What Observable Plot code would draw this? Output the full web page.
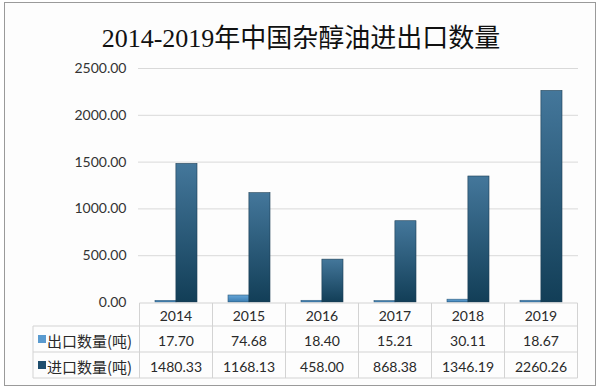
<!DOCTYPE html>
<html><head><meta charset="utf-8">
<script src="https://cdn.jsdelivr.net/npm/d3@7"></script>
<script src="https://cdn.jsdelivr.net/npm/@observablehq/plot@0.6"></script>
<style>
body{margin:0;background:#fff;}
#wrap{position:relative;width:600px;height:388px;overflow:hidden;background:#fff;}
#frame{position:absolute;left:4px;top:2px;width:592px;height:384px;border:1px solid #9a9a9a;box-sizing:border-box;background:#fdfdfd}
#title{position:absolute;left:0;top:17px;width:602px;text-align:center;font:26px "Liberation Serif","DejaVu Serif","Noto Sans CJK SC",serif;color:#111;white-space:nowrap}
#chart{position:absolute;left:0;top:55px;}
#tbl{position:absolute;left:0;top:0;}
</style></head><body>
<div id="wrap"><div id="frame"></div><div id="title">2014-2019年中国杂醇油进出口数量</div><div id="chart"></div></div>
<script>
const years = ["2014","2015","2016","2017","2018","2019"];
const exportVals = [17.70, 74.68, 18.40, 15.21, 30.11, 18.67];
const importVals = [1480.33, 1168.13, 458.00, 868.38, 1346.19, 2260.26];
const seriesNames = ["出口数量(吨)", "进口数量(吨)"];
const yTicks = [0, 500, 1000, 1500, 2000, 2500];

const W = 600, H = 250, ML = 138, MR = 22, MT = 13, MB = 3, TOP = 55;
const padIn = 0.43, padOut = padIn / 2;
const step = (W - ML - MR) / (years.length - padIn + 2 * padOut);
const bw = step * (1 - padIn);

const data = years.map((y, i) => ({year: y, exp: exportVals[i], imp: importVals[i]}));

const plot = Plot.plot({
  width: W, height: H, marginTop: MT, marginBottom: MB, marginLeft: ML, marginRight: MR,
  style: {background: "transparent", fontFamily: "Lato, 'Noto Sans', sans-serif", fontSize: "14px", color: "#333", overflow: "visible"},
  x: {domain: years, paddingInner: padIn, paddingOuter: padOut, axis: null},
  y: {domain: [0, 2500], axis: null},
  marks: [
    Plot.gridY(yTicks.slice(1), {stroke: "#d9d9d9", strokeOpacity: 1}),
    Plot.axisY(yTicks, {tickSize: 0, tickPadding: 12, tickFormat: d3.format(".2f"), label: null, fontSize: 14, fill: "#333"}),
    Plot.barY(data, {x: "year", y: "exp", insetRight: bw / 2, fill: "url(#gExp)", stroke: "#2c5878", strokeWidth: 0.6}),
    Plot.barY(data, {x: "year", y: "imp", insetLeft: bw / 2, fill: "url(#gImp)", stroke: "#1d3f55", strokeWidth: 0.6})
  ]
});
document.getElementById("chart").appendChild(plot);

const defs = d3.select(plot).insert("defs", ":first-child");
const g1 = defs.append("linearGradient").attr("id", "gImp").attr("x1", 0).attr("y1", 0).attr("x2", 0).attr("y2", 1);
g1.append("stop").attr("offset", "0%").attr("stop-color", "#44779b");
g1.append("stop").attr("offset", "100%").attr("stop-color", "#123e57");
const g2 = defs.append("linearGradient").attr("id", "gExp").attr("x1", 0).attr("y1", 0).attr("x2", 0).attr("y2", 1);
g2.append("stop").attr("offset", "0%").attr("stop-color", "#66a6d8");
g2.append("stop").attr("offset", "100%").attr("stop-color", "#3a7cb0");

// data table under the plot
const xs = plot.scale("x"), ys = plot.scale("y");
const yTop = TOP + ys.apply(0) + 1;
const rowY = [yTop, yTop + 23, yTop + 49, yTop + 75];
const tableLeft = 33;
const colLeft = years.map(y => xs.apply(y) + xs.bandwidth / 2 - xs.step / 2);
const colRight = xs.apply(years[years.length - 1]) + xs.bandwidth / 2 + xs.step / 2;
const svg = d3.select("#wrap").append("svg").attr("id", "tbl").attr("width", 600).attr("height", 388);
const line = "#d3d3d3";
// horizontal lines
svg.append("line").attr("x1", colLeft[0]).attr("x2", colRight).attr("y1", rowY[0]).attr("y2", rowY[0]).attr("stroke", line);
for (let r = 1; r < 4; r++)
  svg.append("line").attr("x1", tableLeft).attr("x2", colRight).attr("y1", rowY[r]).attr("y2", rowY[r]).attr("stroke", line);
// vertical lines
svg.append("line").attr("x1", tableLeft).attr("x2", tableLeft).attr("y1", rowY[1]).attr("y2", rowY[3]).attr("stroke", line);
[...colLeft, colRight].forEach(x => svg.append("line").attr("x1", x).attr("x2", x).attr("y1", rowY[0]).attr("y2", rowY[3]).attr("stroke", line));
const txt = (x, y, s, anchor, size, fam) => svg.append("text").attr("x", x).attr("y", y).attr("text-anchor", anchor)
  .attr("dominant-baseline", "central").attr("font-size", size).attr("font-family", fam).attr("fill", "#2a2a2a").text(s);
const numFont = "Lato, 'Noto Sans', sans-serif";
years.forEach((y, i) => {
  const cx = xs.apply(y) + xs.bandwidth / 2;
  txt(cx, (rowY[0] + rowY[1]) / 2 + 1, y, "middle", 14, numFont);
  txt(cx, (rowY[1] + rowY[2]) / 2 + 1, exportVals[i].toFixed(2), "middle", 14, numFont);
  txt(cx, (rowY[2] + rowY[3]) / 2 + 1, importVals[i].toFixed(2), "middle", 14, numFont);
});
const swatch = ["#5a9bd0", "#1f4e6e"];
seriesNames.forEach((s, i) => {
  const cy = (rowY[i + 1] + rowY[i + 2]) / 2;
  svg.append("rect").attr("x", 38).attr("y", cy - 4).attr("width", 8).attr("height", 8).attr("fill", swatch[i]);
  txt(47, cy + 1, s, "start", 15, "'Noto Sans CJK SC', sans-serif");
});
</script>
</body></html>
